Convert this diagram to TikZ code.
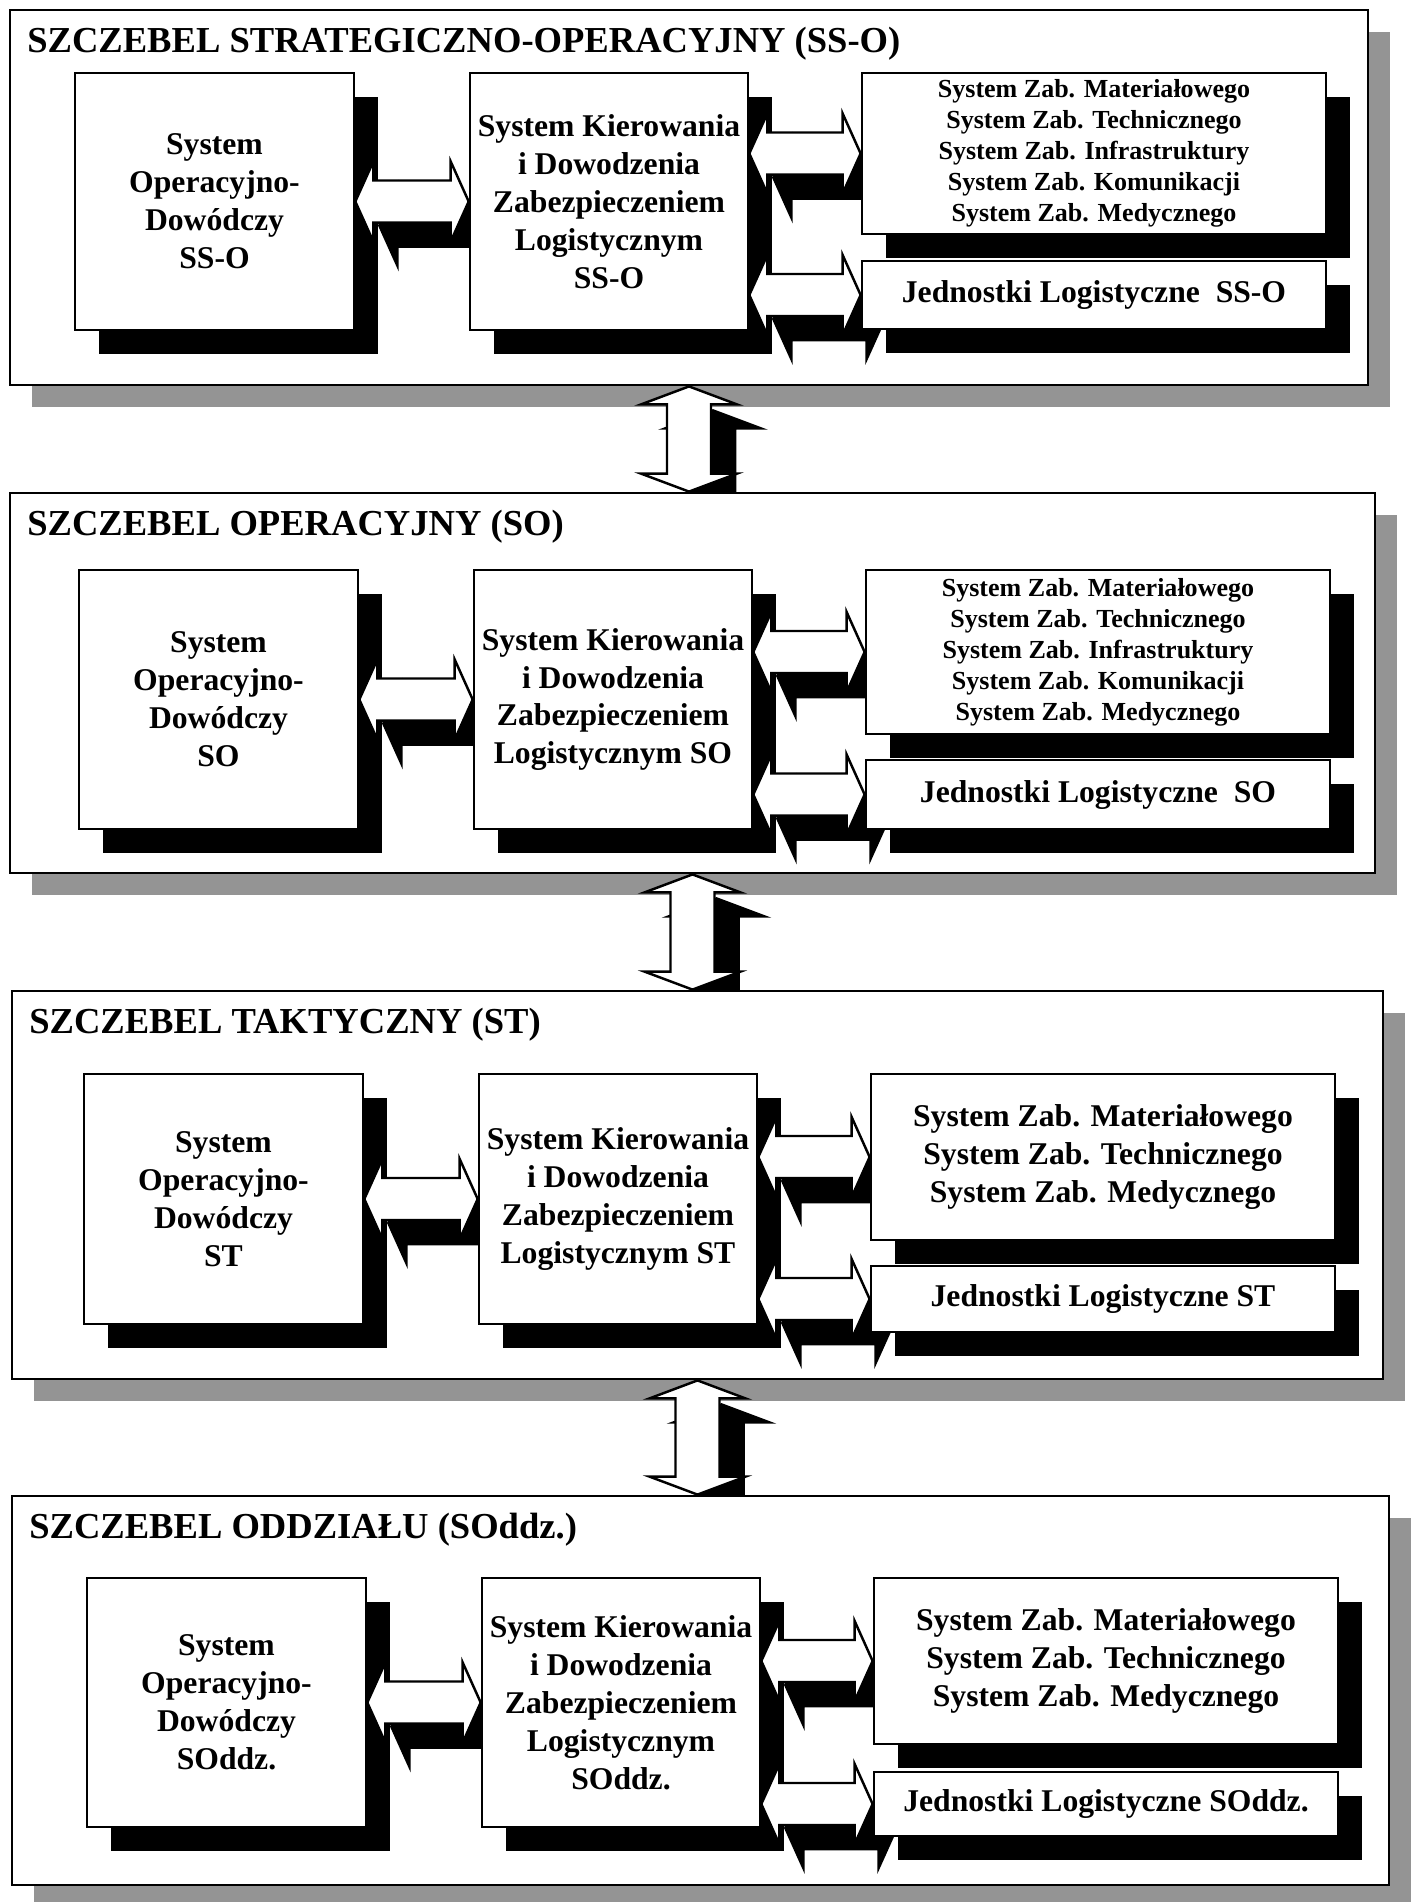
\documentclass[tikz,border=0pt]{standalone}
\usepackage{fontspec}
\setmainfont{Liberation Serif}
\usetikzlibrary{calc,fit,shadows}
\pgfdeclarelayer{back}
\pgfdeclarelayer{shade}
\pgfsetlayers{back,shade,main}
\newcommand\levelfnt{\fontsize{10.4}{12}\selectfont\bfseries}
\newcommand\unitfnt{\fontsize{9}{10.8}\selectfont\bfseries}
\newcommand\listfnt{\fontsize{7.4}{8.8}\selectfont\bfseries}
\newcommand\zabfive{System Zab. Materiałowego\\System Zab. Technicznego\\System Zab. Infrastruktury\\System Zab. Komunikacji\\System Zab. Medycznego}
\newcommand\zabthree{System Zab. Materiałowego\\System Zab. Technicznego\\System Zab. Medycznego}
\tikzset{
  panel/.style={draw,line width=.8pt,fill=white,inner sep=0pt,drop shadow={shadow xshift=.22cm,shadow yshift=-.22cm,fill=black!42,opacity=1}},
  unitbox/.style={draw,line width=.7pt,fill=white,inner sep=0pt,align=center,font=\unitfnt,drop shadow={shadow xshift=.24cm,shadow yshift=-.24cm,fill=black,opacity=1}},
  levelname/.style={anchor=west,inner sep=0pt,font=\levelfnt},
  blockarrow/.style={draw,line width=.7pt,fill=white},
  blockshade/.style={draw,line width=.7pt,fill=black,transform canvas={shift={(.24cm,-.24cm)}}},
  harrow/.style={to path={let \p1=(\tikztostart),\p2=(\tikztotarget) in
    (\x1,\y1) -- ++(.18cm,.4cm) -- ++(0,-.19cm) -- (\x2-.18cm,\y1+.21cm) -- ++(0,.19cm) -- (\x2,\y1)
    -- ++(-.18cm,-.4cm) -- ++(0,.19cm) -- (\x1+.18cm,\y1-.21cm) -- ++(0,-.19cm) -- cycle}},
  varrow/.style={to path={let \p1=(\tikztostart),\p2=(\tikztotarget) in
    (\x1,\y1) -- ++(.48cm,-.18cm) -- ++(-.26cm,0) -- (\x1+.22cm,\y2+.18cm) -- ++(.26cm,0) -- (\x1,\y2)
    -- ++(-.48cm,.18cm) -- ++(.26cm,0) -- (\x1-.22cm,\y1-.18cm) -- ++(-.26cm,0) -- cycle}},
}

\begin{document}
\begin{tikzpicture}[x=0.01cm,y=-0.01cm]
  \useasboundingbox (0,0) rectangle (1421,1902);
  \foreach \i/\pl/\pt/\pr/\pb/\sx/\bt/\bb/\cb/\dt/\db/\ttl/\lvl/\ktail/\cf/\ctx/\jtx in {
    1/10/10/1368/385/0/73/330/234/261/329/SZCZEBEL STRATEGICZNO-OPERACYJNY (SS-O)/SS-O/\\SS-O/\listfnt/\zabfive/Jednostki Logistyczne~~SS-O,
    2/10/493/1375/873/4/570/829/734/760/829/SZCZEBEL OPERACYJNY (SO)/SO/~SO/\listfnt/\zabfive/Jednostki Logistyczne~~SO,
    3/12/991/1383/1379/9/1074/1324/1240/1266/1332/SZCZEBEL TAKTYCZNY (ST)/ST/~ST/\unitfnt/\zabthree/Jednostki Logistyczne ST,
    4/12/1496/1389/1885/12/1578/1827/1744/1772/1836/SZCZEBEL ODDZIAŁU (SOddz.)/SOddz./\\SOddz./\unitfnt/\zabthree/Jednostki Logistyczne SOddz.}{
    \begin{pgfonlayer}{back}
      \node[panel,fit={(\pl,\pt) (\pr,\pb)}] (p\i) {};
    \end{pgfonlayer}
    \node[levelname] (t\i) at ([shift={(18,35)}]p\i.north west) {\ttl};
    \node[unitbox,minimum width=2.79cm,minimum height={(\bb-\bt)*0.01cm}] (a\i) at ({214.5+\sx},{(\bt+\bb)/2}) {System\\Operacyjno-\\Dowódczy\\\lvl};
    \node[unitbox,minimum width=2.78cm,minimum height={(\bb-\bt)*0.01cm}] (b\i) at ({609+\sx},{(\bt+\bb)/2}) {System Kierowania\\i Dowodzenia\\Zabezpieczeniem\\Logistycznym\ktail};
    \node[unitbox,font=\cf,minimum width=4.64cm,minimum height={(\cb-\bt)*0.01cm}] (c\i) at ({1094+\sx},{(\bt+\cb)/2}) {\ctx};
    \node[unitbox,minimum width=4.64cm,minimum height={(\db-\dt)*0.01cm}] (d\i) at ({1094+\sx},{(\dt+\db)/2}) {\jtx};
    \begin{pgfonlayer}{shade}
      \path[blockshade] (a\i.east) to[harrow] (a\i.east -| b\i.west)
        (c\i.west -| b\i.east) to[harrow] (c\i.west)
        (d\i.west -| b\i.east) to[harrow] (d\i.west);
    \end{pgfonlayer}
    \path[blockarrow] (a\i.east) to[harrow] (a\i.east -| b\i.west)
      (c\i.west -| b\i.east) to[harrow] (c\i.west)
      (d\i.west -| b\i.east) to[harrow] (d\i.west);
  }
  % arrows between the levels
  \foreach \i/\j in {1/2,2/3,3/4}{
    \begin{pgfonlayer}{shade}
      \begin{scope}
        \clip (p\i.south west) rectangle (p\j.north east);
        \path[blockshade] (p\i.south) to[varrow] (p\j.north);
      \end{scope}
    \end{pgfonlayer}
    \path[blockarrow] (p\i.south) to[varrow] (p\j.north);
  }
\end{tikzpicture}
\end{document}
